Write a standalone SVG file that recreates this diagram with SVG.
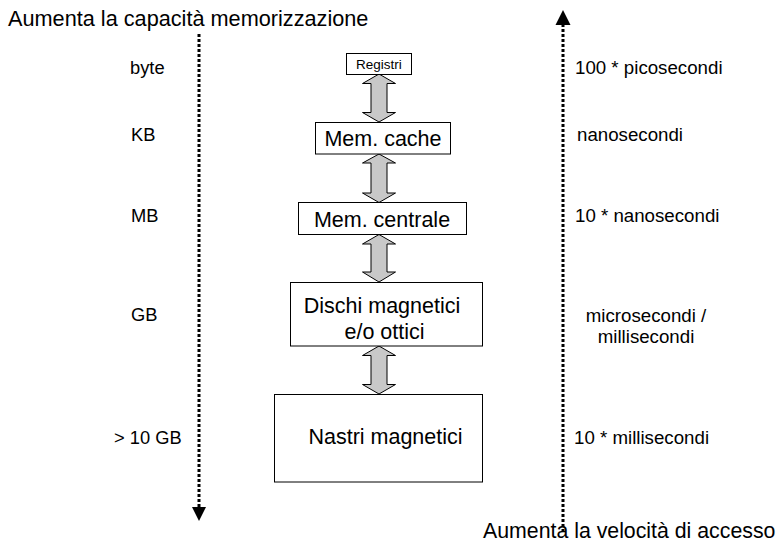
<svg xmlns="http://www.w3.org/2000/svg" width="778" height="544" viewBox="0 0 778 544">
<style>
text{font-family:"Liberation Sans",Arial,sans-serif;fill:#000}
.box{fill:#fff;stroke:#000;stroke-width:1}
.dbl{fill:#c8c8c8;stroke:#000;stroke-width:1}
.dot{stroke:#000;stroke-width:3;stroke-dasharray:3 2;fill:none}
.lab{font-size:18.3px}
.rl{font-size:18.7px}
.big{font-size:21.5px}
.c{text-anchor:middle}
</style>
<rect width="778" height="544" fill="#fff"/>
<g id="axes">
<text x="8" y="26" style="font-size:21.7px">Aumenta la capacità memorizzazione</text>
<line class="dot" x1="199" y1="34" x2="199" y2="508"/>
<polygon points="192,507 206,507 199,521" fill="#000"/>
<line class="dot" x1="563" y1="24" x2="563" y2="532"/>
<polygon points="555.5,25 570.5,25 563,10" fill="#000"/>
<text x="483" y="538" style="font-size:21.3px">Aumenta la velocità di accesso</text>
</g>
<g id="left-labels" class="lab">
<text x="130" y="74">byte</text>
<text x="131" y="141">KB</text>
<text x="131" y="222">MB</text>
<text x="131" y="321">GB</text>
<text x="114" y="444">&gt; 10 GB</text>
</g>
<g id="right-labels" class="rl">
<text x="575" y="74">100 * picosecondi</text>
<text x="577" y="141">nanosecondi</text>
<text x="575" y="222">10 * nanosecondi</text>
<text x="646" y="322" class="c">microsecondi /</text>
<text x="646" y="343" class="c">millisecondi</text>
<text x="574" y="444">10 * millisecondi</text>
</g>
<g id="connectors">
<polygon class="dbl" points="379,74 395.5,83.5 387,83.5 387,112.5 395.5,112.5 379,122 362.5,112.5 371,112.5 371,83.5 362.5,83.5"/>
<polygon class="dbl" points="379,154 395.5,163 387,163 387,193 395.5,193 379,202.5 362.5,193 371,193 371,163 362.5,163"/>
<polygon class="dbl" points="379,234.5 395.5,244 387,244 387,272 395.5,272 379,282 362.5,272 371,272 371,244 362.5,244"/>
<polygon class="dbl" points="379,346 395.5,355.5 387,355.5 387,384.5 395.5,384.5 379,394 362.5,384.5 371,384.5 371,355.5 362.5,355.5"/>
</g>
<g id="registri">
<rect class="box" x="346.5" y="53.5" width="65" height="21"/>
<text x="379" y="69" class="c" style="font-size:13.5px">Registri</text>
</g>
<g id="cache">
<rect class="box" x="315.5" y="122.5" width="135" height="31.5"/>
<text x="383" y="146" class="c big">Mem. cache</text>
</g>
<g id="centrale">
<rect class="box" x="298.5" y="202.5" width="168" height="32"/>
<text x="382" y="226.5" class="c big">Mem. centrale</text>
</g>
<g id="dischi">
<rect class="box" x="290.5" y="282.5" width="192" height="63.5"/>
<text x="382" y="313" class="c big">Dischi magnetici</text>
<text x="384.5" y="339" class="c big">e/o ottici</text>
</g>
<g id="nastri">
<rect class="box" x="274.5" y="394.5" width="208" height="87.5"/>
<text x="385.5" y="444" class="c big">Nastri magnetici</text>
</g>
</svg>
